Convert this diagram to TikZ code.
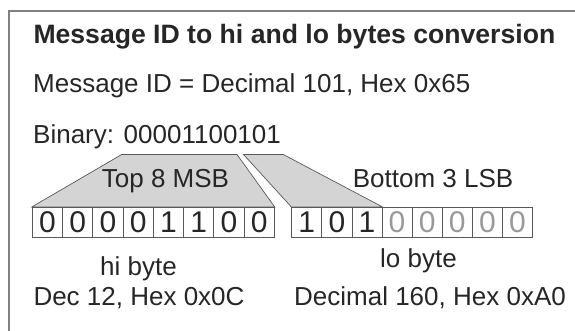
\documentclass[tikz,border=0pt]{standalone}
\usepackage{fontspec}
\setmainfont{Liberation Sans}
\usetikzlibrary{positioning}

\begin{document}
\begin{tikzpicture}[x=1pt,y=-1pt,
  txt/.style={anchor=base west,inner sep=0pt,text=black!85,font=\fontsize{26}{30}\selectfont},
  cell/.style={draw=black!65,line width=0.8pt,minimum height=30pt,inner sep=0pt,
    font=\fontsize{30}{30}\selectfont,text=black!85},
  dim/.style={text=black!40},
  part/.style={draw=black!65,line width=0.7pt,fill=black!17}]
\useasboundingbox (0,0) rectangle (575,331);
\draw[black!50,line width=1.3pt] (9,11) rectangle (590,345);

% Title and values
\node[txt,font=\fontsize{26.6}{30}\selectfont\bfseries] (title) at (33.3,44) {Message ID to hi and lo bytes conversion};
\node[txt] (msgid) at (33,93) {Message ID = Decimal 101, Hex 0x65};
\node[txt] (binary) at (33,144) {Binary: 00001100101};

% hi byte
\foreach \b [count=\i] in {0,0,0,0,1,1,0,0}
  \node[cell,minimum width=30.25pt] (h\i) at ({47.4+30.25*(\i-1)},222.3) {\b};
% lo byte
\foreach \b/\s [count=\i] in {1/,0/,1/,0/dim,0/dim,0/dim,0/dim,0/dim}
  \node[cell,minimum width=30.1pt,\s] (l\i) at ({306.75+30.1*(\i-1)},222.3) {\b};

% MSB and LSB parts
\coordinate (msbl) at (121.7,154.5);
\coordinate (msbr) at (237,154.5);
\coordinate (lsbl) at (243.5,154.5);
\coordinate (lsbr) at (283.3,154.5);
\draw[part] (h1.north west) -- (msbl) -- (msbr) -- (h8.north east) -- cycle;
\draw[part] (l1.north west) -- (lsbl) -- (lsbr) -- (l3.north east) -- cycle;
\node[txt] (msb) at (101.7,187.5) {Top 8 MSB};
\node[txt] (lsb) at (352.7,188) {Bottom 3 LSB};

% Results
\node[txt] (hi) at (100,275) {hi byte};
\node[txt] (hival) at (33.3,305) {Dec 12, Hex 0x0C};
\node[txt] (lo) at (380,267) {lo byte};
\node[txt] (loval) at (294,305) {Decimal 160, Hex 0xA0};
\end{tikzpicture}
\end{document}
